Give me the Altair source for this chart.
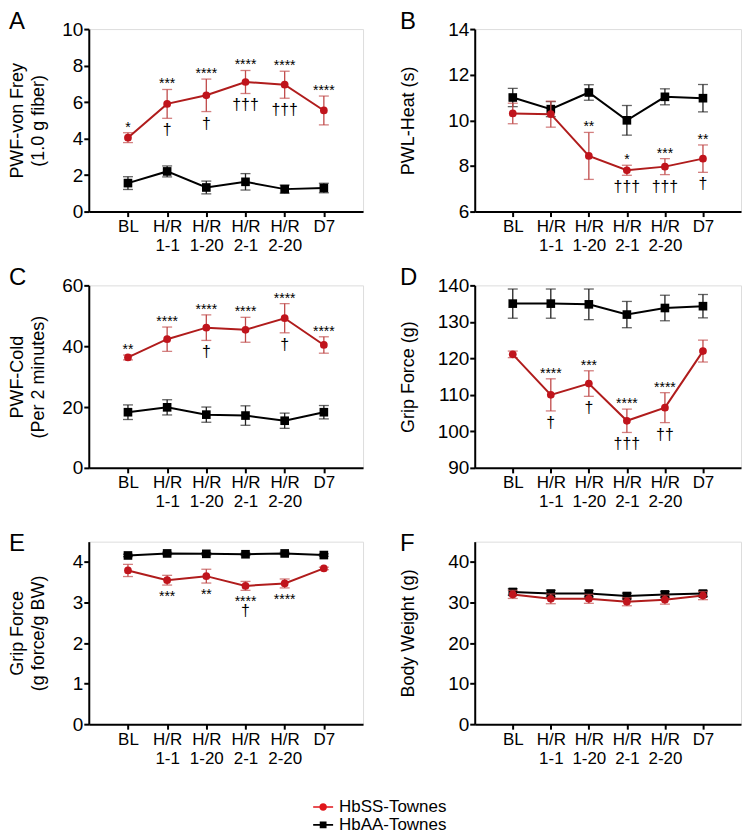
import altair as alt
import pandas as pd

cats = ["BL", "H/R 1-1", "H/R 1-20", "H/R 2-1", "H/R 2-20", "D7"]
SS = "HbSS-Townes"
AA = "HbAA-Townes"

# Panel A: PWF-von Frey
a_ss = [4.05, 5.90, 6.37, 7.10, 6.95, 5.54]
a_ss_err = [0.27, 0.79, 0.89, 0.63, 0.74, 0.79]
a_aa = [1.56, 2.20, 1.32, 1.63, 1.23, 1.29]
a_aa_err = [0.35, 0.30, 0.35, 0.45, 0.22, 0.26]
a_stars = ["*", "***", "****", "****", "****", "****"]
a_daggers = ["", "†", "†", "†††", "†††", ""]

# Panel B: PWL-Heat
b_ss = [10.30, 10.27, 8.44, 7.81, 7.97, 8.32]
b_ss_err = [0.45, 0.57, 1.03, 0.22, 0.35, 0.60]
b_aa = [11.00, 10.49, 11.22, 10.00, 11.03, 10.97]
b_aa_err = [0.40, 0.33, 0.34, 0.65, 0.35, 0.60]
b_stars = ["", "", "**", "*", "***", "**"]
b_daggers = ["", "", "", "†††", "†††", "†"]

# Panel C: PWF-Cold
c_ss = [36.3, 42.3, 46.1, 45.4, 49.2, 40.4]
c_ss_err = [0.8, 4.0, 4.2, 4.1, 4.8, 2.7]
c_aa = [18.3, 19.9, 17.5, 17.2, 15.5, 18.3]
c_aa_err = [2.4, 2.5, 2.5, 3.2, 2.5, 2.2]
c_stars = ["**", "****", "****", "****", "****", "****"]
c_daggers = ["", "", "†", "", "†", ""]

# Panel D: Grip Force (g)
d_ss = [121.1, 110.0, 113.1, 102.9, 106.5, 122.0]
d_ss_err = [0.9, 4.4, 3.5, 3.2, 4.1, 3.0]
d_aa = [135.0, 135.0, 134.8, 132.0, 133.8, 134.3]
d_aa_err = [4.0, 4.0, 4.2, 3.6, 3.5, 3.2]
d_stars = ["", "****", "***", "****", "****", ""]
d_daggers = ["", "†", "†", "†††", "††", ""]

# Panel E: Grip Force / BW
e_ss = [3.79, 3.55, 3.65, 3.41, 3.47, 3.84]
e_ss_err = [0.15, 0.12, 0.17, 0.11, 0.11, 0.03]
e_aa = [4.16, 4.21, 4.20, 4.19, 4.21, 4.17]
e_aa_err = [0.03, 0.03, 0.03, 0.03, 0.03, 0.03]
e_stars = ["", "***", "**", "****", "****", ""]
e_daggers = ["", "", "", "†", "", ""]

# Panel F: Body Weight
f_ss = [32.0, 30.9, 30.9, 30.2, 30.7, 31.7]
f_ss_err = [1.0, 1.2, 1.1, 1.0, 1.1, 1.0]
f_aa = [32.6, 32.2, 32.2, 31.6, 32.0, 32.2]
f_aa_err = [0.8, 0.8, 0.8, 0.7, 0.7, 0.7]
f_stars = ["", "", "", "", "", ""]
f_daggers = ["", "", "", "", "", ""]

RED_LINE = "#b01c1c"
RED_PT = "#c0141c"
RED_ERR = "#c04a4a"
LEG_RED = "#e0161b"
FONT = "Liberation Sans"
H = 183

CIRCLE_PATH = ("M-1,-0.08H-0.36V0.08H-1Z M0.36,-0.08H1V0.08H0.36Z "
               "M0.38,0A0.38,0.38,0,1,1,-0.38,0A0.38,0.38,0,1,1,0.38,0Z")
SQUARE_PATH = ("M-1,-0.08H-0.34V0.08H-1Z M0.34,-0.08H1V0.08H0.34Z "
               "M-0.34,-0.34H0.34V0.34H-0.34Z")


def panel(letter, ss, ss_err, aa, aa_err, stars, daggers, ydom, yvals,
          ytitle, w, title_x, below=False, legend=False):
    df = pd.DataFrame({
        "cat": cats,
        "ss": ss, "ss_lo": [m - e for m, e in zip(ss, ss_err)],
        "ss_hi": [m + e for m, e in zip(ss, ss_err)],
        "aa": aa, "aa_lo": [m - e for m, e in zip(aa, aa_err)],
        "aa_hi": [m + e for m, e in zip(aa, aa_err)],
        "stars": stars, "daggers": daggers,
    })
    base = alt.Chart(df)
    xaxis = alt.Axis(title=None, labelExpr="split(datum.label, ' ')",
                     labelFontSize=17, labelLineHeight=19, labelPadding=2,
                     labelAngle=0, tickSize=5, tickWidth=2, domainWidth=2,
                     grid=False, labelColor="black")
    yaxis = alt.Axis(title=ytitle, values=yvals, titleX=title_x, titleY=H / 2,
                     titleAngle=270, titleAlign="center", titleBaseline="top",
                     titleFontSize=18, titleLineHeight=21, titleFontWeight="normal",
                     labelFontSize=19, labelPadding=1, tickSize=5, tickWidth=2,
                     domainWidth=2, grid=False, labelColor="black")
    x = alt.X("cat:N", sort=cats, scale=alt.Scale(type="point", padding=1), axis=xaxis)

    def y(field):
        return alt.Y(f"{field}:Q", scale=alt.Scale(domain=ydom, nice=False, zero=False),
                     axis=yaxis)

    layers = []
    for key, lc, pc, ec, shape, size in [("aa", "black", "black", "#222222", "square", 75),
                                          ("ss", RED_LINE, RED_PT, RED_ERR, "circle", 60)]:
        layers.append(base.mark_rule(color=ec, strokeWidth=1.3).encode(
            x=x, y=y(key + "_lo"), y2=alt.Y2(key + "_hi:Q")))
        layers.append(base.mark_tick(color=ec, size=10, thickness=1.3,
                                     orient="horizontal").encode(x=x, y=y(key + "_hi")))
        layers.append(base.mark_tick(color=ec, size=10, thickness=1.3,
                                     orient="horizontal").encode(x=x, y=y(key + "_lo")))
        layers.append(base.mark_line(color=lc, strokeWidth=2).encode(x=x, y=y(key)))
        layers.append(base.mark_point(shape=shape, filled=True, size=size, color=pc,
                                      opacity=1).encode(x=x, y=y(key)))
    if below:
        layers.append(base.mark_text(fontSize=14, baseline="alphabetic", dy=16,
                                     color="black").encode(x=x, y=y("ss_lo"), text="stars:N"))
        layers.append(base.mark_text(fontSize=16, baseline="alphabetic", dy=26,
                                     color="black").encode(x=x, y=y("ss_lo"), text="daggers:N"))
    else:
        layers.append(base.mark_text(fontSize=14, baseline="alphabetic", dy=-1,
                                     color="black").encode(x=x, y=y("ss_hi"), text="stars:N"))
        layers.append(base.mark_text(fontSize=16, baseline="alphabetic", dy=17,
                                     color="black").encode(x=x, y=y("ss_lo"), text="daggers:N"))
    if legend:
        ldf = pd.DataFrame({"series": [SS, AA], "cat": [cats[0], cats[0]],
                            "val": [ss[0], aa[0]]})
        leg = alt.Legend(title=None, orient="none", legendX=225, legendY=770,
                         symbolSize=400, labelFontSize=17, labelOffset=6,
                         rowPadding=-4, symbolOpacity=1, labelFont=FONT,
                         labelColor="black", symbolStrokeWidth=0)
        layers.append(alt.Chart(ldf).mark_point(filled=True, opacity=0).encode(
            x=x, y=y("val"),
            color=alt.Color("series:N", scale=alt.Scale(domain=[SS, AA],
                                                        range=[LEG_RED, "black"]), legend=leg),
            shape=alt.Shape("series:N", scale=alt.Scale(domain=[SS, AA],
                                                        range=[CIRCLE_PATH, SQUARE_PATH]),
                            legend=leg)))
    return alt.layer(*layers).properties(
        width=w, height=H,
        title=alt.TitleParams(letter, anchor="start", frame="group", dx=title_x,
                              dy=8, offset=-25, fontSize=24, fontWeight="normal",
                              baseline="alphabetic", color="black", font=FONT))


WL = 275
WR = 267
pA = panel("A", a_ss, a_ss_err, a_aa, a_aa_err, a_stars, a_daggers, [0, 10],
           [0, 2, 4, 6, 8, 10], ["PWF-von Frey", "(1.0 g fiber)"], WL, -80)
pB = panel("B", b_ss, b_ss_err, b_aa, b_aa_err, b_stars, b_daggers, [6, 14],
           [6, 8, 10, 12, 14], "PWL-Heat (s)", WR, -75)
pC = panel("C", c_ss, c_ss_err, c_aa, c_aa_err, c_stars, c_daggers, [0, 60],
           [0, 20, 40, 60], ["PWF-Cold", "(Per 2 minutes)"], WL, -80)
pD = panel("D", d_ss, d_ss_err, d_aa, d_aa_err, d_stars, d_daggers, [90, 140],
           [90, 100, 110, 120, 130, 140], "Grip Force (g)", WR, -75)
pE = panel("E", e_ss, e_ss_err, e_aa, e_aa_err, e_stars, e_daggers, [0, 4.5],
           [0, 1, 2, 3, 4], ["Grip Force", "(g force/g BW)"], WL, -80, below=True)
pF = panel("F", f_ss, f_ss_err, f_aa, f_aa_err, f_stars, f_daggers, [0, 45],
           [0, 10, 20, 30, 40], "Body Weight (g)", WR, -75, legend=True)

chart = alt.concat(pA, pB, pC, pD, pE, pF, columns=2,
                   spacing={"row": 74, "column": 112}, bounds="flush").properties(
    padding=0
).configure_view(stroke=None).configure(font=FONT).configure_axis(
    domainColor="black", tickColor="black", titleColor="black", labelFont=FONT,
    titleFont=FONT)

chart.save("out.html", embed_options={"renderer": "svg", "actions": False})
